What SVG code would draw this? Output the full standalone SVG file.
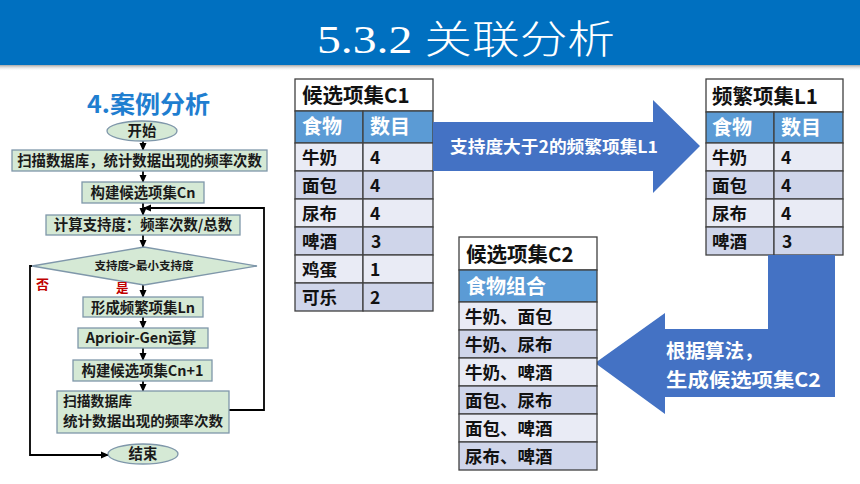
<svg xmlns="http://www.w3.org/2000/svg" width="860" height="484" viewBox="0 0 860 484">
<defs>
<marker id="ah" markerWidth="8" markerHeight="8" refX="7" refY="4" orient="auto" markerUnits="userSpaceOnUse">
<path d="M0,0.5 L8,4 L0,7.5 Z" fill="#000"/>
</marker>
<linearGradient id="sh" x1="0" y1="0" x2="0" y2="1">
<stop offset="0" stop-color="#808080" stop-opacity="0.7"/>
<stop offset="1" stop-color="#ffffff" stop-opacity="0"/>
</linearGradient>
</defs>
<style>
text{font-family:"Noto Sans CJK SC","Liberation Sans",sans-serif;}
.fb{fill:#d5e9d5;stroke:#7f97aa;stroke-width:1.3;}
.ft{font-size:14.4px;font-weight:bold;fill:#1a1a1a;text-anchor:middle;}
.fl{fill:none;stroke:#000;stroke-width:1.8;}
.cell{stroke:#404040;stroke-width:1.3;}
.w{fill:#ffffff;}
.hd{fill:#5b9bd5;}
.r1{fill:#e9ebf5;}
.r2{fill:#cfd5ea;}
.tt{font-size:20.5px;font-weight:bold;fill:#111;}
.ht{font-size:20px;font-weight:bold;fill:#fff;}
.dt{font-size:17.5px;font-weight:bold;fill:#111;}
.arw{fill:#4472c4;}
.at{font-weight:bold;fill:#fff;}
</style>
<rect x="0" y="0" width="860" height="65" fill="#0070c0"/>
<rect x="0" y="65" width="860" height="6" fill="url(#sh)"/>
<text x="317" y="53" font-size="39" fill="#fff" textLength="298" lengthAdjust="spacingAndGlyphs" style="font-family:'Liberation Serif','Noto Sans CJK SC',serif;font-weight:300">5.3.2 关联分析</text>

<text x="87" y="113" font-size="23.5" font-weight="bold" fill="#1f7ed0" textLength="123" lengthAdjust="spacingAndGlyphs">4.案例分析</text>

<g id="connectors">
<line class="fl" x1="143" y1="141" x2="143" y2="150" marker-end="url(#ah)"/>
<line class="fl" x1="143" y1="171" x2="143" y2="182" marker-end="url(#ah)"/>
<line class="fl" x1="143" y1="203" x2="143" y2="215" marker-end="url(#ah)"/>
<line class="fl" x1="143" y1="235" x2="143" y2="247" marker-end="url(#ah)"/>
<line class="fl" x1="143" y1="285" x2="143" y2="297" marker-end="url(#ah)"/>
<line class="fl" x1="143" y1="317" x2="143" y2="328" marker-end="url(#ah)"/>
<line class="fl" x1="143" y1="348" x2="143" y2="360" marker-end="url(#ah)"/>
<line class="fl" x1="143" y1="381" x2="143" y2="391" marker-end="url(#ah)"/>
<polyline class="fl" points="229,410 264,410 264,208 144,208" marker-end="url(#ah)"/>
<polyline class="fl" points="32,266 30,266 30,455 108,455" marker-end="url(#ah)"/>
</g>

<g id="start">
<ellipse cx="142" cy="131" rx="35" ry="10" class="fb"/>
<text x="142" y="136" class="ft">开始</text>
</g>
<g id="scan1">
<rect x="12" y="150" width="255" height="21" class="fb"/>
<text x="139.5" y="166" class="ft">扫描数据库，统计数据出现的频率次数</text>
</g>
<g id="buildCn">
<rect x="82" y="182" width="122" height="21" class="fb"/>
<text x="143" y="198" class="ft">构建候选项集Cn</text>
</g>
<g id="support">
<rect x="46" y="215" width="194" height="20" class="fb"/>
<text x="143" y="230" class="ft">计算支持度：频率次数/总数</text>
</g>
<g id="decision">
<polygon points="32,266 144,247 257,266 144,285" class="fb"/>
<text x="144" y="270" class="ft" style="font-size:11.5px">支持度&gt;最小支持度</text>
<text x="36" y="289" font-size="13" font-weight="bold" fill="#c00000">否</text>
<text x="116" y="293" font-size="12.5" font-weight="bold" fill="#c00000">是</text>
</g>
<g id="formLn">
<rect x="83" y="297" width="120" height="20" class="fb"/>
<text x="143" y="312.5" class="ft">形成频繁项集Ln</text>
</g>
<g id="apriori">
<rect x="78" y="328" width="130" height="20" class="fb"/>
<text x="141" y="343" class="ft">Aprioir-Gen运算</text>
</g>
<g id="buildCn1">
<rect x="73" y="360" width="139" height="21" class="fb"/>
<text x="142.5" y="376" class="ft">构建候选项集Cn+1</text>
</g>
<g id="scan2">
<rect x="57" y="391" width="172" height="42" class="fb"/>
<text x="63" y="405.5" class="ft" style="text-anchor:start;font-size:13.8px">扫描数据库</text>
<text x="63" y="425.5" class="ft" style="text-anchor:start;font-size:13.8px" textLength="160" lengthAdjust="spacingAndGlyphs">统计数据出现的频率次数</text>
</g>
<g id="end">
<ellipse cx="143" cy="454" rx="35" ry="10" class="fb"/>
<text x="143" y="459" class="ft">结束</text>
</g>

<g id="tableC1">
<rect x="295" y="79" width="138" height="32" class="cell w"/>
<rect x="295" y="111" width="68" height="32" class="cell hd"/>
<rect x="363" y="111" width="70" height="32" class="cell hd"/>
<rect x="295" y="143" width="68" height="28" class="cell r1"/><rect x="363" y="143" width="70" height="28" class="cell r1"/>
<rect x="295" y="171" width="68" height="28" class="cell r2"/><rect x="363" y="171" width="70" height="28" class="cell r2"/>
<rect x="295" y="199" width="68" height="28" class="cell r1"/><rect x="363" y="199" width="70" height="28" class="cell r1"/>
<rect x="295" y="227" width="68" height="28" class="cell r2"/><rect x="363" y="227" width="70" height="28" class="cell r2"/>
<rect x="295" y="255" width="68" height="28" class="cell r1"/><rect x="363" y="255" width="70" height="28" class="cell r1"/>
<rect x="295" y="283" width="68" height="28" class="cell r2"/><rect x="363" y="283" width="70" height="28" class="cell r2"/>
<text x="302" y="103" class="tt">候选项集C1</text>
<text x="302" y="134" class="ht">食物</text><text x="370" y="134" class="ht">数目</text>
<text x="302" y="164" class="dt">牛奶</text><text x="370" y="164" class="dt">4</text>
<text x="302" y="192" class="dt">面包</text><text x="370" y="192" class="dt">4</text>
<text x="302" y="220" class="dt">尿布</text><text x="370" y="220" class="dt">4</text>
<text x="302" y="248" class="dt">啤酒</text><text x="371" y="248" class="dt">3</text>
<text x="302" y="276" class="dt">鸡蛋</text><text x="370" y="276" class="dt">1</text>
<text x="302" y="304" class="dt">可乐</text><text x="370" y="304" class="dt">2</text>
</g>

<g id="arrowL1">
<polygon class="arw" points="433,122 653,122 653,100 700,146 653,193 653,171 433,171"/>
<text x="450" y="153" class="at" font-size="16.5" textLength="208" lengthAdjust="spacingAndGlyphs">支持度大于2的频繁项集L1</text>
</g>

<g id="tableL1">
<rect x="706" y="79" width="137" height="33" class="cell w"/>
<rect x="706" y="112" width="68" height="31" class="cell hd"/>
<rect x="774" y="112" width="69" height="31" class="cell hd"/>
<rect x="706" y="143" width="68" height="28" class="cell r1"/><rect x="774" y="143" width="69" height="28" class="cell r1"/>
<rect x="706" y="171" width="68" height="28" class="cell r2"/><rect x="774" y="171" width="69" height="28" class="cell r2"/>
<rect x="706" y="199" width="68" height="28" class="cell r1"/><rect x="774" y="199" width="69" height="28" class="cell r1"/>
<rect x="706" y="227" width="68" height="28" class="cell r2"/><rect x="774" y="227" width="69" height="28" class="cell r2"/>
<text x="712" y="104" class="tt">频繁项集L1</text>
<text x="712" y="135" class="ht">食物</text><text x="781" y="135" class="ht">数目</text>
<text x="712" y="164" class="dt">牛奶</text><text x="781" y="164" class="dt">4</text>
<text x="712" y="192" class="dt">面包</text><text x="781" y="192" class="dt">4</text>
<text x="712" y="220" class="dt">尿布</text><text x="781" y="220" class="dt">4</text>
<text x="712" y="248" class="dt">啤酒</text><text x="782" y="248" class="dt">3</text>
</g>

<g id="arrowC2">
<polygon class="arw" points="768,255 835,255 835,397 665,397 665,414 595,363 665,313 665,329 768,329"/>
<text x="666" y="358" class="at" font-size="19.5">根据算法，</text>
<text x="666" y="387" class="at" font-size="19.5" textLength="155" lengthAdjust="spacingAndGlyphs">生成候选项集C2</text>
</g>

<g id="tableC2">
<rect x="459" y="237" width="138" height="33" class="cell w"/>
<rect x="459" y="270" width="138" height="32" class="cell hd"/>
<rect x="459" y="302" width="138" height="28" class="cell r1"/>
<rect x="459" y="330" width="138" height="28" class="cell r2"/>
<rect x="459" y="358" width="138" height="28" class="cell r1"/>
<rect x="459" y="386" width="138" height="28" class="cell r2"/>
<rect x="459" y="414" width="138" height="28" class="cell r1"/>
<rect x="459" y="442" width="138" height="28" class="cell r2"/>
<text x="466" y="262" class="tt">候选项集C2</text>
<text x="466" y="294" class="ht">食物组合</text>
<text x="465" y="323" class="dt">牛奶、面包</text>
<text x="465" y="351" class="dt">牛奶、尿布</text>
<text x="465" y="379" class="dt">牛奶、啤酒</text>
<text x="465" y="407" class="dt">面包、尿布</text>
<text x="465" y="435" class="dt">面包、啤酒</text>
<text x="465" y="463" class="dt">尿布、啤酒</text>
</g>
</svg>
